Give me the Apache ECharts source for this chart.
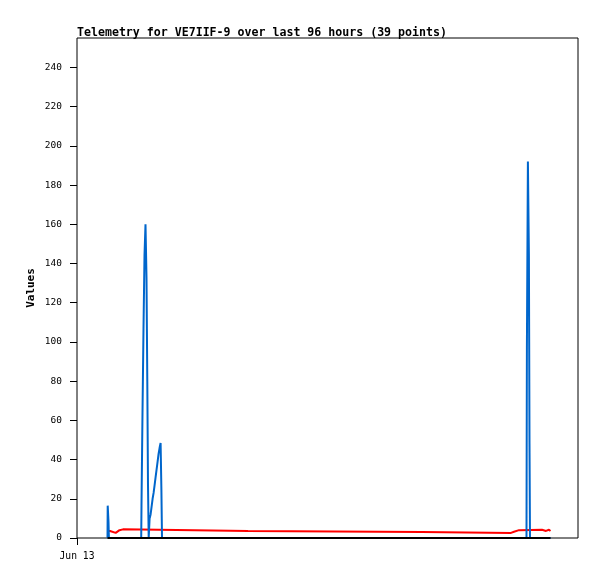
<!DOCTYPE html>
<html>
<head>
<meta charset="utf-8">
<script src="https://cdn.jsdelivr.net/npm/echarts@6/dist/echarts.min.js"></script>
<style>html,body{margin:0;padding:0;background:#fff;}#c{width:597px;height:579px;}</style>
</head>
<body>
<div id="c"></div>
<script>
// hours since Jun 13 00:00
var blueHours = [5.844, 5.883, 6.036, 6.113, 12.302, 12.359, 12.551, 12.743, 12.934, 13.126, 13.317, 13.471, 13.605, 13.739, 13.911, 14.103, 14.295, 14.486, 14.678, 14.870, 15.061, 15.253, 15.444, 15.636, 15.828, 16.019, 16.173, 16.287, 86.132, 86.208, 86.400, 86.592, 86.707, 86.802, 90.731];
var blueValues = [0, 16.5, 8.2, 0, 0, 16.5, 64, 107, 144, 160, 133, 80, 27, 0, 10, 12, 16, 20, 23, 27, 31, 35, 39, 43, 46, 48.5, 24.5, 0, 0, 96, 192, 144, 48, 0, 0];
var redHours = [5.844, 6.323, 6.457, 7.416, 7.760, 8.144, 8.431, 8.814, 9.102, 32.766, 32.958, 66.108, 66.299, 83.162, 83.353, 83.737, 83.928, 84.695, 84.790, 85.078, 85.173, 89.102, 89.294, 89.869, 89.965, 90.443, 90.731];
var redValues = [3.6, 3.6, 2.6, 2.6, 3.2, 4.0, 4.4, 4.4, 3.6, 3.6, 3.1, 3.1, 2.6, 2.6, 3.2, 3.2, 4.0, 4.0, 4.4, 4.4, 4.2, 4.2, 3.6, 3.6, 4.2, 4.2, 3.6];
var blackHours = [5.844, 90.731];
var blackValues = [0, 0];
var yTicks = [0, 20, 40, 60, 80, 100, 120, 140, 160, 180, 200, 220, 240];
var xTickValues = [0];
var xTickLabels = ['Jun 13'];
var titleText = 'Telemetry for VE7IIF-9 over last 96 hours (39 points)';
var yName = 'Values';

function pairs(xs, ys) { return xs.map(function (x, i) { return [x, ys[i]]; }); }
var mono = '"DejaVu Sans Mono", "Liberation Mono", monospace';

var chart = echarts.init(document.getElementById('c'), null, { renderer: 'canvas' });
chart.setOption({
  animation: false,
  backgroundColor: '#fff',
  title: {
    text: titleText, left: 72, top: 22,
    textStyle: { fontFamily: mono, fontWeight: 'bold', fontSize: 11.6, color: '#000' }
  },
  grid: { left: 77, top: 38, right: 19, bottom: 41, show: true, borderColor: '#000', borderWidth: 1, backgroundColor: '#fff' },
  xAxis: {
    type: 'value', min: 0, max: 96,
    axisLine: { show: false },
    axisTick: { show: true, length: 7, customValues: xTickValues, lineStyle: { color: '#000' } },
    axisLabel: {
      customValues: xTickValues, margin: 13,
      formatter: function (v) { var i = xTickValues.indexOf(v); return i >= 0 ? xTickLabels[i] : ''; },
      fontFamily: mono, fontSize: 9.7, color: '#000'
    },
    splitLine: { show: false }
  },
  yAxis: {
    type: 'value', min: 0, max: 255, interval: 20,
    name: yName, nameLocation: 'middle', nameRotate: 90, nameGap: 40, nameMoveOverlap: false,
    nameTextStyle: { fontFamily: mono, fontWeight: 'bold', fontSize: 11, color: '#000' },
    axisLine: { show: false },
    axisTick: { show: true, length: 7, customValues: yTicks, lineStyle: { color: '#000' } },
    axisLabel: { customValues: yTicks, margin: 15, fontFamily: mono, fontSize: 9.5, color: '#000' },
    splitLine: { show: false }
  },
  series: [
    { type: 'line', data: pairs(redHours, redValues), showSymbol: false, lineStyle: { color: '#ff0000', width: 2 }, itemStyle: { color: '#ff0000' }, z: 2 },
    { type: 'line', data: pairs(blueHours, blueValues), showSymbol: false, lineStyle: { color: '#0066cc', width: 2 }, itemStyle: { color: '#0066cc' }, z: 3 },
    { type: 'line', data: pairs(blackHours, blackValues), showSymbol: false, lineStyle: { color: '#000000', width: 2 }, itemStyle: { color: '#000' }, z: 4 }
  ]
});
</script>
</body>
</html>
